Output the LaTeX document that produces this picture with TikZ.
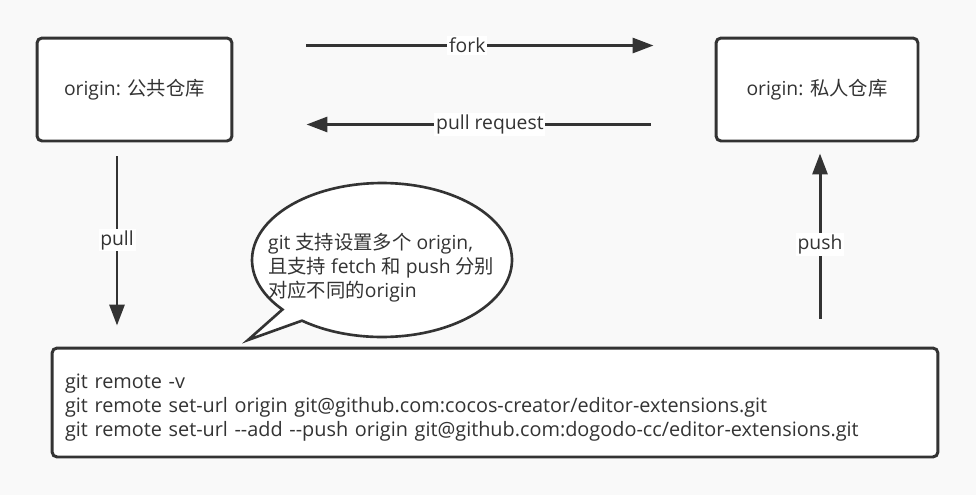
\documentclass[tikz,border=0pt]{standalone}
\usepackage{fontspec}
\setmainfont{Open Sans}
\newfontfamily\cjk{Noto Sans CJK SC}
\usepackage{xcolor}
\usetikzlibrary{positioning, arrows.meta}

\definecolor{ink}{HTML}{333333}
\definecolor{paper}{HTML}{F9F9F9}

\begin{document}
\begin{tikzpicture}[x=0.02cm, y=0.02cm, >={Triangle[length=0.42cm, width=0.3cm]},
    every node/.style={font=\fontsize{11}{13.6}\selectfont, text=ink},
    repo/.style={draw=ink, line width=1.7pt, fill=white, rounded corners=0.1cm, minimum height=2.06cm},
    flow/.style={->, draw=ink, line width=1.7pt},
    tag/.style={fill=white, inner sep=1pt}]
    \fill[paper] (0,0) rectangle (976,495);

    \node[repo, minimum width=3.9cm]  (public)  at (134.5,405.5) {origin: {\cjk 公共仓库}};
    \node[repo, minimum width=4.04cm] (private) at (817,405.5)   {origin: {\cjk 私人仓库}};
    \node[repo, minimum width=17.72cm, minimum height=2.18cm, text width=17.2cm, align=left,
          font=\fontsize{11.3}{13.6}\selectfont] (cmds) at (495,92.5)
        {\rule{0pt}{14pt}git remote -v\\
         git remote set-url origin git@github.com:cocos-creator/editor-extensions.git\\
         git remote set-url -{}-add -{}-push origin git@github.com:dogodo-cc/editor-extensions.git};

    % speech bubble
    \coordinate (bubble) at (382,235);
    \coordinate (tip) at (248,155);
    \draw[ink, line width=1.5pt, fill=white, line join=miter]
        ([shift={(220:2.6cm and 1.54cm)}]bubble) -- (tip) -- ([shift={(232:2.6cm and 1.54cm)}]bubble)
        arc[start angle=232, end angle=580, x radius=2.6cm, y radius=1.54cm] -- cycle;
    \node[anchor=west, align=left] (note) at (262,227)
        {git {\cjk 支持设置多个} origin,\\ {\cjk 且支持} fetch {\cjk 和} push {\cjk 分别}\\ {\cjk 对应不同的}origin};

    \draw[flow, shorten <=1.46cm, shorten >=1.22cm] ([yshift=-0.18cm]public.north east) -- ([yshift=-0.18cm]private.north west)
        node[tag, pos=0.486] {fork};
    \draw[flow, shorten <=1.28cm, shorten >=1.46cm] ([yshift=0.36cm]private.south west) -- ([yshift=0.36cm]public.south east)
        node[tag, pos=0.467] {pull request};
    \draw[flow, shorten <=0.28cm, shorten >=0.42cm] ([xshift=-0.35cm]public.south) -- ([xshift=-0.35cm]public.south |- cmds.north)
        node[tag, pos=0.478] {pull};
    \draw[flow, shorten <=0.56cm, shorten >=0.22cm] ([xshift=0.06cm]private.south |- cmds.north) -- ([xshift=0.06cm]private.south)
        node[tag, pos=0.498] {push};
\end{tikzpicture}
\end{document}
